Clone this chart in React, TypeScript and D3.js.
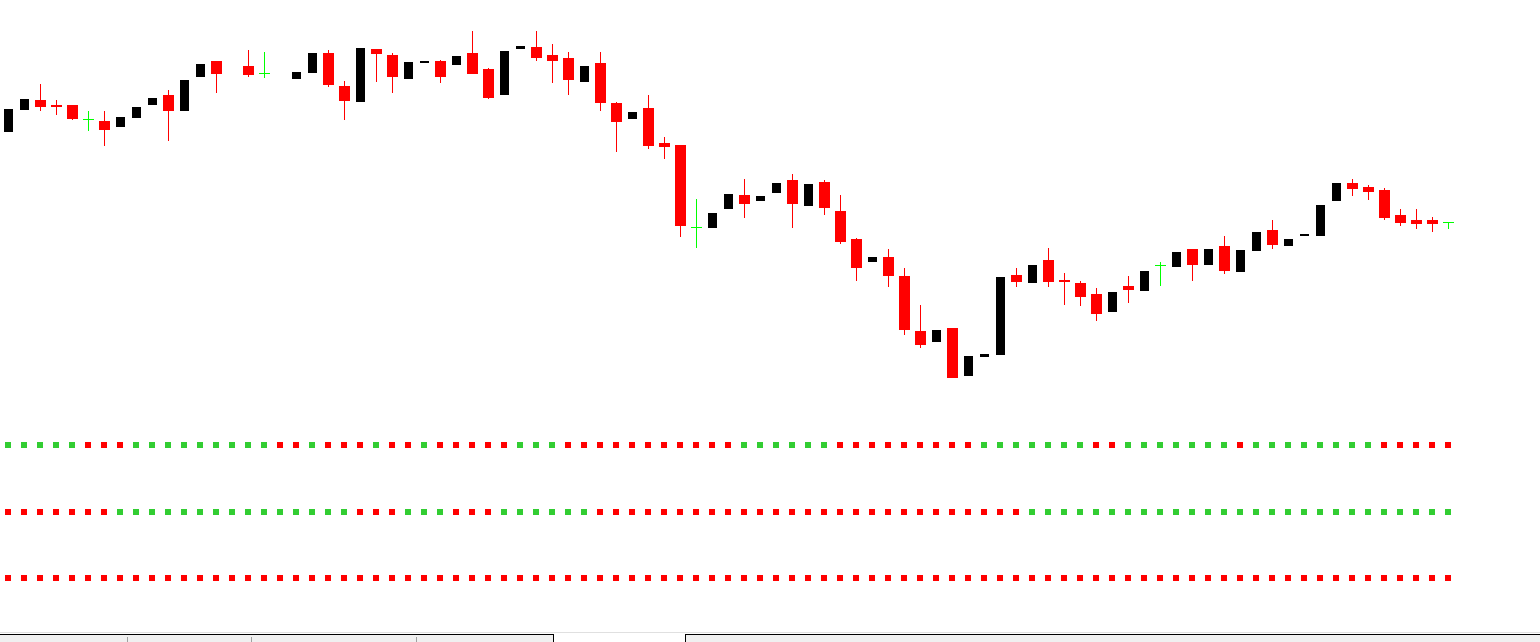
import React from "react";
import * as d3 from "d3";

// OHLC values (price units), one entry per bar
const opens = [367,389,400,395,395,381,379,372,381,394,405,388,422,439,429,434,427,425,420,426,447,414,397,451,445,420,436,439,434,447,431,404,450,453,445,442,417,437,397,380,392,357,355,273,271,290,305,298,306,320,293,318,289,261,237,243,224,169,157,172,123,142,144,225,216,240,220,217,206,187,214,208,235,232,251,234,254,227,248,270,253,263,263,298,317,313,310,285,280,280,278];
const highs = [392,402,416,400,395,389,389,384,394,403,410,421,437,439,430,450,448,426,429,448,450,419,453,451,447,439,440,440,445,469,432,450,455,469,456,448,435,448,398,389,405,363,355,301,288,307,321,305,318,326,317,320,305,262,244,251,232,195,171,172,145,147,224,232,236,252,227,219,212,209,224,230,238,249,251,252,264,251,269,280,262,267,296,318,321,315,312,291,291,283,278];
const lows = [367,389,389,385,380,370,354,372,381,394,359,388,422,407,429,423,423,425,420,426,413,380,397,418,407,420,436,417,434,426,401,404,450,439,417,405,417,389,348,380,351,341,263,253,271,290,282,298,306,272,293,285,256,219,237,213,165,152,157,122,123,142,144,213,216,213,195,194,179,187,197,208,215,232,219,234,226,227,248,251,253,263,263,298,304,300,280,274,271,268,272];
const closes = [392,402,393,393,381,381,370,384,394,403,389,421,437,426,430,425,427,426,429,448,415,399,453,446,423,439,440,423,445,426,402,450,455,442,439,420,435,397,378,389,354,353,274,273,288,307,296,305,318,296,317,292,258,232,244,224,170,155,171,122,145,147,224,218,236,218,218,203,186,209,210,230,235,249,235,252,229,251,269,255,262,267,296,318,311,308,282,277,276,276,278];

// indicator rows: G = up (green), R = down (red)
const signalRow1 = ("GGGGG" + "RRR" + "GGGGGGGGG" + "RR" + "G" + "RRR" + "G" + "RR" + "G" + "RRRRR" + "GGG" + "RRRRRRRRRRR" + "GGGGGG" + "RRRRRRRRR" + "GGGGGGG" + "RR" + "GGGGGGG" + "R" + "GGGGGGGG" + "RRRRR").split("");
const signalRow2 = ("RRRRRRR" + "GGGGGGGGGGGGGGG" + "RRR" + "GGG" + "RRR" + "GGGGGG" + "RRRRRRRRRRRRRRRRRRRRRRRRRRR" + "GGGGGGGGGGGGGGGGGGGGGGGGGGG").split("");
const signalRow3 = "R".repeat(91).split("");

const W = 1540;
const H = 642;

export default function App() {
  const n = opens.length;
  const x = d3.scaleLinear().domain([0, n - 1]).range([8.5, 8.5 + 16 * (n - 1)]);
  const y = d3.scaleLinear().domain([500, -142]).range([0, H]);

  const rows = [
    { data: signalRow1, top: 442 },
    { data: signalRow2, top: 509 },
    { data: signalRow3, top: 575 },
  ];

  return (
    <svg
      width={W}
      height={H}
      style={{ position: "absolute", left: 0, top: 0, display: "block", background: "#fff" }}
      shapeRendering="crispEdges"
    >
      <rect x={0} y={0} width={W} height={H} fill="#fff" />
      {opens.map((o, i) => {
        const c = closes[i];
        const cx = x(i);
        const hi = y(highs[i]);
        const lo = y(lows[i]);
        if (o === c) {
          const yy = y(o) + 0.5;
          return (
            <g key={i}>
              <line x1={cx} x2={cx} y1={hi} y2={lo + 1} stroke="#00ff00" strokeWidth={1} />
              <line x1={cx - 5.5} x2={cx + 5.5} y1={yy} y2={yy} stroke="#00ff00" strokeWidth={1} />
            </g>
          );
        }
        if (c < o) {
          return (
            <g key={i}>
              <line x1={cx} x2={cx} y1={hi} y2={lo} stroke="#ff0000" strokeWidth={1} />
              <rect x={cx - 5.5} y={y(o)} width={11} height={y(c) - y(o)} fill="#ff0000" />
            </g>
          );
        }
        const h = y(o) - y(c) - 2;
        return (
          <g key={i}>
            <line x1={cx} x2={cx} y1={hi} y2={lo} stroke="#ffffff" strokeWidth={1} />
            {h > 0 && <rect x={cx - 4.5} y={y(c) + 1} width={9} height={h} fill="#000000" />}
          </g>
        );
      })}
      {rows.map((r, ri) =>
        r.data.map((s, i) => (
          <rect
            key={ri + "-" + i}
            x={Math.floor(x(i)) - 3}
            y={r.top}
            width={6}
            height={6}
            fill={s === "G" ? "#32cd32" : "#ff0000"}
          />
        ))
      )}
      {/* bottom tab strip */}
      <line x1={0} x2={W} y1={632.5} y2={632.5} stroke="#e0e0e0" />
      <rect x={0} y={635} width={553} height={7} fill="#f0f0f0" />
      <rect x={686} y={635} width={W - 686} height={7} fill="#f0f0f0" />
      <line x1={0} x2={554} y1={634.5} y2={634.5} stroke="#000" />
      <line x1={685} x2={W} y1={634.5} y2={634.5} stroke="#000" />
      <line x1={553.5} x2={553.5} y1={634} y2={H} stroke="#000" />
      <line x1={685.5} x2={685.5} y1={634} y2={H} stroke="#000" />
      {[127, 251, 416].map((sx) => (
        <line key={sx} x1={sx + 0.5} x2={sx + 0.5} y1={637} y2={H} stroke="#a0a0a0" />
      ))}
    </svg>
  );
}
